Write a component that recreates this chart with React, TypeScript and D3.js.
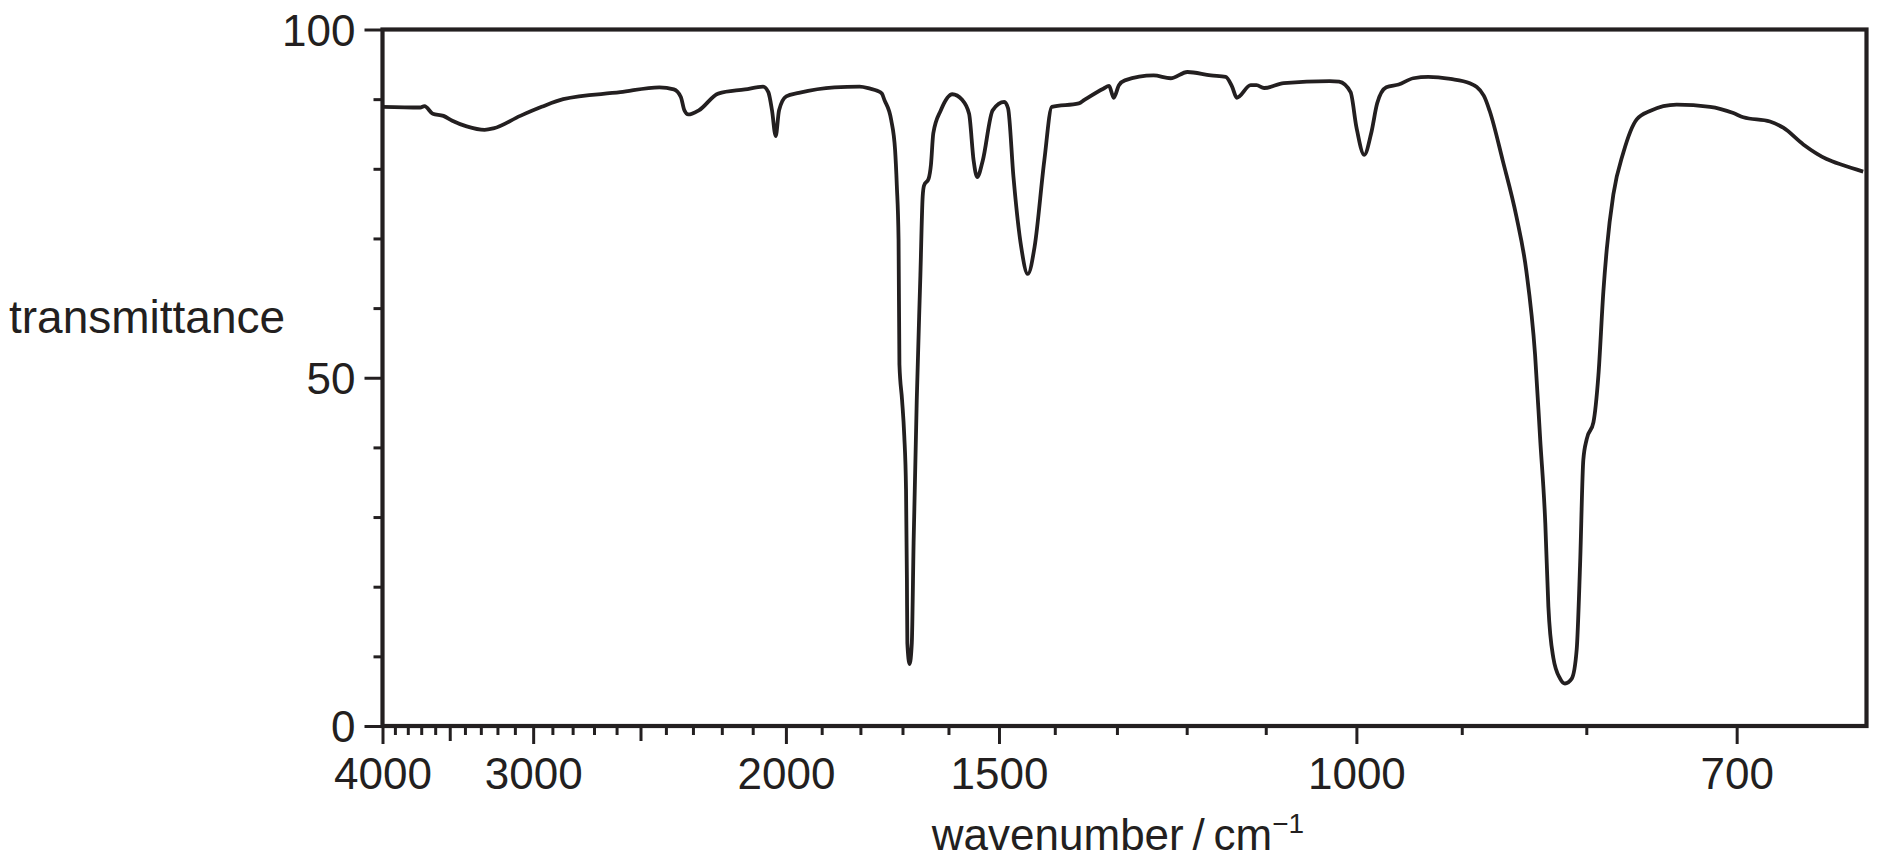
import React, { useEffect, useRef } from 'react';
import * as d3 from 'd3';

// spectrum: wavenumber (cm-1) and transmittance (%)
const wavenumbers = [
  4000, 3707, 3676, 3617, 3543, 3483, 3389, 3277, 3224, 3070, 2955, 2846, 2584, 2425,
  2370, 2344, 2331, 2317, 2279, 2212, 2124, 2068, 2052, 2041, 2030, 2020, 1999, 1963,
  1866, 1802, 1776, 1759, 1748, 1742, 1726, 1717, 1713, 1709, 1707, 1701, 1696, 1692,
  1690, 1689, 1684, 1679, 1675, 1668, 1660, 1655, 1652, 1642, 1637, 1632, 1616, 1592,
  1572, 1558, 1549, 1542, 1531, 1512, 1490, 1483, 1473, 1459, 1447, 1435, 1418, 1405,
  1360, 1351, 1321, 1312, 1305, 1297, 1288, 1246, 1222, 1199, 1168, 1149, 1141, 1135,
  1118, 1111, 1102, 1079, 1028, 1018, 1006, 1000, 992, 985, 979, 970, 958, 944, 930,
  910, 893, 881, 876, 865, 854, 846, 839, 835, 831, 828.6, 824.8, 819.6, 815.9, 810.8,
  807.1, 804.6, 802.2, 799.7, 794.8, 791.2, 787.6, 785.2, 780.5, 773.5, 764.2, 755.2,
  737.5, 716.3, 702, 696, 680.4, 672.8, 661.6, 648.9, 640, 629.7,
];
const transmittance = [
  88.9, 88.8, 89.0, 87.9, 87.6, 86.9, 86.1, 85.6, 85.8, 87.6, 88.9, 90.0, 91.0, 91.7,
  91.4, 90.3, 88.4, 87.8, 88.4, 90.8, 91.4, 91.8, 91.0, 88.4, 84.7, 88.4, 90.4, 90.9,
  91.7, 91.8, 91.5, 91.2, 90.8, 89.9, 87.0, 82.7, 77.6, 69.9, 51.9, 46.8, 41.7, 34.0,
  21.2, 11.9, 8.9, 11.9, 26.3, 46.8, 64.7, 76.0, 77.6, 78.6, 80.6, 85.1, 88.4, 90.7,
  89.9, 87.9, 81.2, 78.8, 81.2, 88.4, 89.6, 88.7, 78.8, 68.8, 64.9, 68.8, 81.2, 88.9,
  89.4, 89.9, 91.5, 91.9, 90.2, 92.0, 92.7, 93.4, 93.0, 93.9, 93.4, 93.2, 91.8, 90.2,
  92.0, 92.0, 91.6, 92.3, 92.6, 92.5, 91.0, 86.0, 82.0, 85.1, 89.4, 91.7, 92.1, 93.0, 93.2,
  92.9, 92.3, 90.5, 88.3, 81.1, 73.2, 65.4, 53.3, 41.2, 29.1, 17.1, 9.8, 6.8, 6.1, 6.8,
  11.0, 23.1, 38.2, 41.2, 43.6, 50.3, 62.4, 68.4, 76.3, 82.3, 87.1, 88.3,
  89.2, 88.9, 88.0, 87.4, 86.8, 85.9, 83.5, 81.4, 80.5, 79.6,
];

const xDomain = [4000, 628];
const xMajorTicks = [4000, 3000, 2000, 1500, 1000, 700];
const xMediumTicks = [3500, 2500];
const xMinorTicks = [
  3900, 3800, 3700, 3600, 3400, 3300, 3200, 3100, 2900, 2800, 2700, 2600, 2400, 2300,
  2200, 2100, 1900, 1800, 1700, 1600, 1400, 1300, 1200, 1100, 900, 800,
];
const yMajorTicks = [0, 50, 100];
const yMinorTicks = [10, 20, 30, 40, 60, 70, 80, 90];

const W = 1879;
const H = 861;
const INK = '#231f20';
const FONT = '"Liberation Sans", Arial, Helvetica, sans-serif';

const IRSpectrum = () => {
  const svgRef = useRef(null);

  useEffect(() => {
    const svg = d3.select(svgRef.current);
    svg.selectAll('*').remove();

    const left = 382.5, right = 1866.5, top = 29.5, bottom = 726;

    // the wavenumber axis is compressed at high wavenumbers (~ 1/sqrt)
    const x = d3.scalePow().exponent(-0.5).domain(xDomain).range([left, right]);
    const y = d3.scaleLinear().domain([0, 100]).range([bottom, top]);

    const data = wavenumbers.map((w, i) => ({ w, t: transmittance[i] }));

    // x ticks
    const xTickGroup = (vals, len, labels) => {
      const g = svg.append('g')
        .attr('transform', `translate(0,${bottom})`)
        .call(d3.axisBottom(x).tickValues(vals).tickSize(len).tickSizeOuter(0)
          .tickPadding(16).tickFormat(labels ? d3.format('d') : () => ''));
      g.select('.domain').remove();
      g.selectAll('.tick line').attr('stroke', INK).attr('stroke-width', 3);
      g.selectAll('.tick text')
        .attr('fill', INK).attr('font-family', FONT).attr('font-size', 44)
        .attr('dy', null).attr('y', 63);
    };
    xTickGroup(xMinorTicks, 9, false);
    xTickGroup(xMediumTicks, 15, false);
    xTickGroup(xMajorTicks, 18, true);

    // y ticks
    const yTickGroup = (vals, len, labels) => {
      const g = svg.append('g')
        .attr('transform', `translate(${left},0)`)
        .call(d3.axisLeft(y).tickValues(vals).tickSize(len).tickSizeOuter(0)
          .tickPadding(9).tickFormat(labels ? d3.format('d') : () => ''));
      g.select('.domain').remove();
      g.selectAll('.tick line').attr('stroke', INK).attr('stroke-width', 3);
      g.selectAll('.tick text')
        .attr('fill', INK).attr('font-family', FONT).attr('font-size', 44)
        .attr('dy', '0.36em');
    };
    yTickGroup(yMinorTicks, 9, false);
    yTickGroup(yMajorTicks, 18, true);

    // frame
    svg.append('rect')
      .attr('x', left).attr('y', top)
      .attr('width', right - left).attr('height', bottom - top)
      .attr('fill', 'none').attr('stroke', INK).attr('stroke-width', 4.2);

    // spectrum line
    const line = d3.line()
      .x(d => x(d.w))
      .y(d => y(d.t))
      .curve(d3.curveMonotoneX);

    svg.append('path')
      .datum(data)
      .attr('d', line)
      .attr('fill', 'none')
      .attr('stroke', INK)
      .attr('stroke-width', 3.8)
      .attr('stroke-linejoin', 'round');

    // axis titles
    svg.append('text')
      .attr('x', 9).attr('y', 333)
      .attr('font-family', FONT).attr('font-size', 46).attr('fill', INK)
      .text('transmittance');

    const xt = svg.append('text')
      .attr('x', 1118).attr('y', 850)
      .attr('text-anchor', 'middle')
      .attr('font-family', FONT).attr('font-size', 44).attr('fill', INK);
    xt.append('tspan').text('wavenumber\u2009/\u2009cm');
    xt.append('tspan').attr('dy', -17).attr('font-size', 28).text('\u22121');
  }, []);

  return (
    <svg ref={svgRef} width={W} height={H}
      style={{ position: 'absolute', left: 0, top: 0, background: '#fff' }} />
  );
};

export default function App() {
  return <IRSpectrum />;
}
